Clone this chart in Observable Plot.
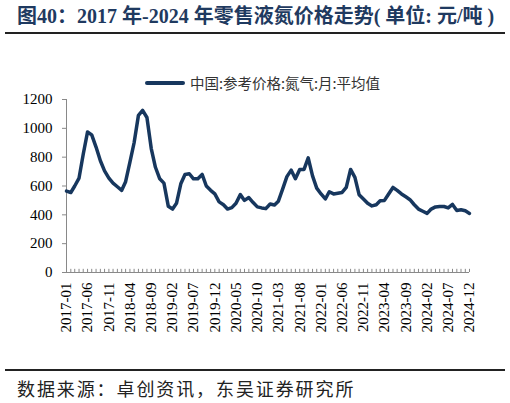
<!DOCTYPE html>
<html>
<head>
<meta charset="utf-8">
<script src="https://cdn.jsdelivr.net/npm/d3@7"></script>
<script src="https://cdn.jsdelivr.net/npm/@observablehq/plot@0.6"></script>
<style>
  body { margin: 0; width: 510px; height: 403px; background: #fff; position: relative; overflow: hidden; }
  .abs { position: absolute; }
  #title { top: 4px; left: 17px; font: bold 20px "Liberation Serif", "Noto Sans CJK SC", serif; color: #1f3a60; line-height: 24px; white-space: nowrap; }
  #rule1 { top: 32px; left: 5px; width: 500px; height: 2px; background: #222; }
  #legline { top: 81px; left: 145px; width: 40px; height: 3.5px; background: #17375e; border-radius: 2px; }
  #legtext { top: 74px; left: 190px; font: 14.5px "Noto Sans CJK SC", sans-serif; color: #333; line-height: 17px; white-space: nowrap; }
  #chart { top: 90px; left: 0; }
  #rule2 { top: 369px; left: 5px; width: 500px; height: 2px; background: #222; }
  #source { top: 377px; left: 17px; font: 18px "Noto Sans CJK SC", sans-serif; letter-spacing: 1.9px; color: #222; line-height: 22px; white-space: nowrap; }
</style>
</head>
<body>
<div id="title" class="abs">图40：2017 年-2024 年零售液氮价格走势( 单位: 元/吨 )</div>
<div id="rule1" class="abs"></div>
<div id="legline" class="abs"></div>
<div id="legtext" class="abs">中国:参考价格:氮气:月:平均值</div>
<div id="chart" class="abs"></div>
<div id="rule2" class="abs"></div>
<div id="source" class="abs">数据来源：卓创资讯，东吴证券研究所</div>
<script>
// 月度数据 2017-01 ~ 2024-12（元/吨）
const startMonth = new Date(Date.UTC(2017, 0, 1));
const prices = [
  565, 555, 600, 655, 820, 975, 955, 870, 775, 705, 655, 620,
  595, 570, 630, 765, 900, 1090, 1125, 1075, 860, 730, 650, 620,
  460, 440, 480, 615, 680, 685, 650, 650, 680, 600, 570, 545,
  490, 470, 440, 450, 480, 540, 500, 520, 485, 455, 448, 443,
  475, 468, 495, 580, 665, 710, 650, 715, 715, 795, 670, 585,
  545, 510, 560, 545, 550, 555, 590, 715, 660, 540, 510, 480,
  462, 470, 497, 500, 545, 590, 570, 545, 525, 505, 470, 440,
  425, 410, 440, 455, 458, 458, 448, 472, 430, 435, 428, 410
];
const yTicks = [0, 200, 400, 600, 800, 1000, 1200];
const labelEvery = 5;

const months = prices.map((_, i) => d3.utcMonth.offset(startMonth, i));
const data = prices.map((v, i) => ({date: months[i], value: v}));
const labelMonths = months.filter((_, i) => i % labelEvery === 0);
const axisGray = "#898989";
const serif = "'Liberation Serif', 'Times New Roman', serif";

const chart = Plot.plot({
  width: 510,
  height: 255,
  marginTop: 9,
  marginBottom: 73,
  marginLeft: 66,
  marginRight: 41,
  style: {fontFamily: serif, background: "transparent"},
  x: {type: "utc", domain: [months[0], months[months.length - 1]], axis: null},
  y: {domain: [0, 1200], axis: null},
  marks: [
    Plot.ruleY([0], {stroke: axisGray}),
    Plot.ruleX([months[0]], {y1: 0, y2: 1200, stroke: axisGray}),
    Plot.ruleX(months, {x: d => d, y1: 0, y2: 22, stroke: axisGray}),
    Plot.axisY(yTicks, {
      label: null,
      tickSize: 4,
      tickPadding: 10,
      tickFormat: d3.format("d"),
      stroke: axisGray,
      fill: "black",
      fontSize: 15,
      fontFamily: serif
    }),
    Plot.axisX(labelMonths, {
      label: null,
      tickSize: 0,
      tickPadding: 10,
      tickRotate: -90,
      tickFormat: d3.utcFormat("%Y-%m"),
      fill: "black",
      fontSize: 15,
      fontFamily: serif
    }),
    Plot.line(data, {x: "date", y: "value", stroke: "#17375e", strokeWidth: 3.5, strokeLinejoin: "round", strokeLinecap: "round"})
  ]
});

document.getElementById("chart").append(chart);
</script>
</body>
</html>
